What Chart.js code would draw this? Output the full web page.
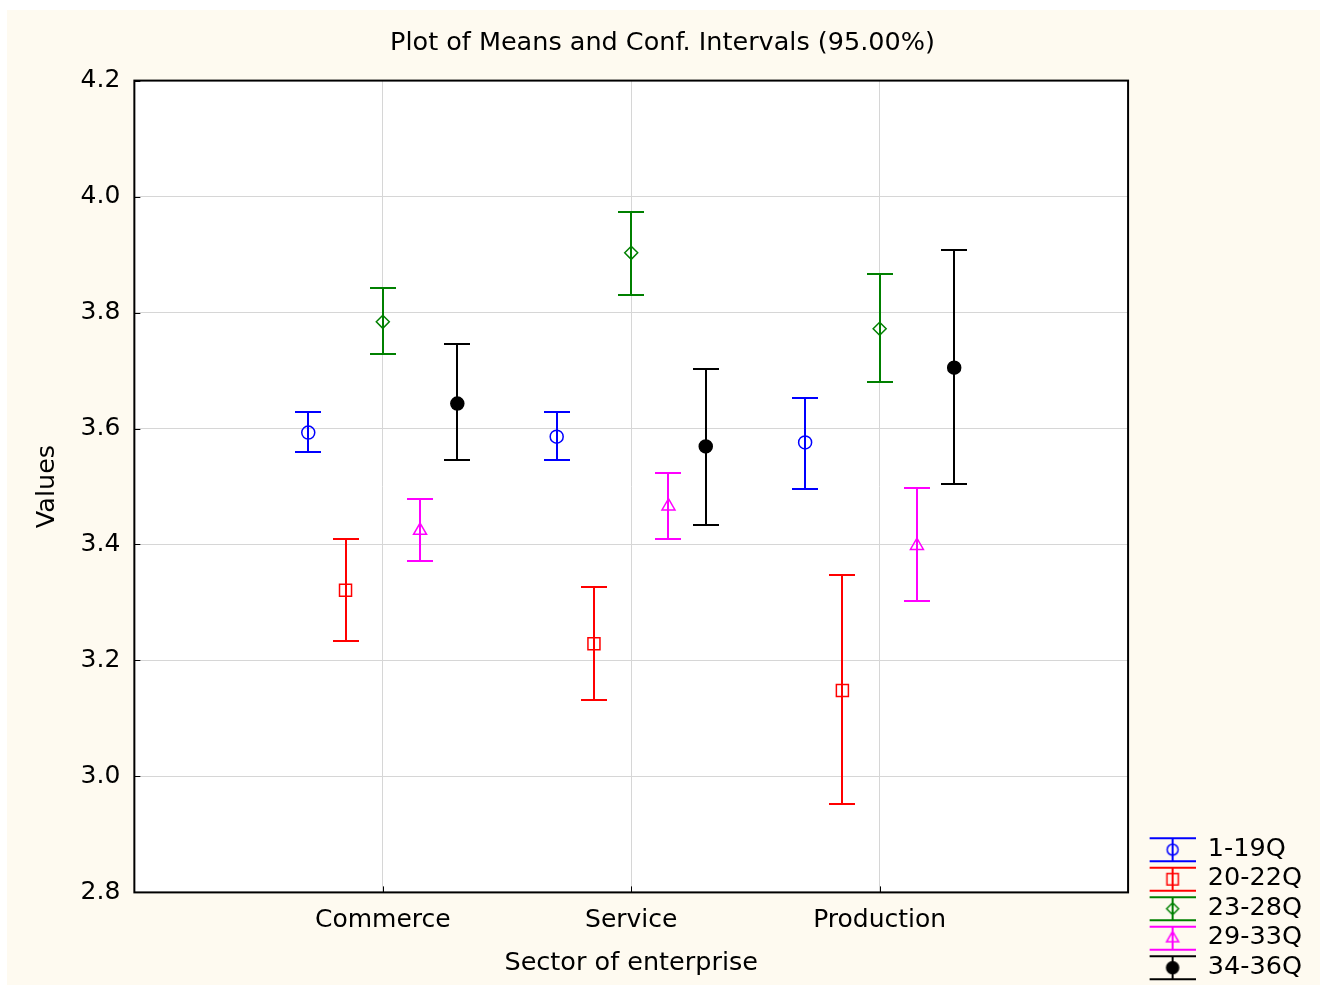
<!DOCTYPE html>
<html lang="en">
<head>
<meta charset="UTF-8">
<title>Plot of Means and Conf. Intervals</title>
<script src="https://cdn.jsdelivr.net/npm/chart.js"></script>
<style>
  html, body { margin: 0; padding: 0; background: #fff; }
  canvas { display: block; }
</style>
</head>
<body>
<canvas id="chartMeans" width="1327" height="987"></canvas>
<script>
const categories = ['Commerce', 'Service', 'Production'];
const groups = ['1-19Q', '20-22Q', '23-28Q', '29-33Q', '34-36Q'];
const yTicks = [2.8, 3.0, 3.2, 3.4, 3.6, 3.8, 4.0, 4.2];

// means and 95% limits per group, in category order
const mean1 = [3.593, 3.586, 3.576];
const low1 = [3.560, 3.545, 3.495];
const high1 = [3.628, 3.628, 3.653];
const mean2 = [3.321, 3.229, 3.148];
const low2 = [3.234, 3.131, 2.953];
const high2 = [3.409, 3.326, 3.347];
const mean3 = [3.784, 3.903, 3.772];
const low3 = [3.728, 3.831, 3.681];
const high3 = [3.843, 3.974, 3.866];
const mean4 = [3.424, 3.466, 3.398];
const low4 = [3.371, 3.409, 3.302];
const high4 = [3.479, 3.524, 3.497];
const mean5 = [3.643, 3.569, 3.705];
const low5 = [3.545, 3.433, 3.505];
const high5 = [3.745, 3.702, 3.907];

// styling
const FONT = 'DejaVu Sans';
const colors = ['#0000ff', '#ff0000', '#008000', '#ff00ff', '#000000'];
const fills = ['rgba(0,0,0,0)', 'rgba(0,0,0,0)', 'rgba(0,0,0,0)', 'rgba(0,0,0,0)', '#000000'];
const styles = ['circle', 'rect', 'rectRot', 'triangle', 'circle'];
const radii = [6.5, 8.5, 6.5, 7.5, 6.5];
const legendRadii = [5.5, 8, 6, 7, 6];
const offsets = [-0.3, -0.15, 0, 0.15, 0.3];

const series = [
  [mean1, low1, high1],
  [mean2, low2, high2],
  [mean3, low3, high3],
  [mean4, low4, high4],
  [mean5, low5, high5]
];

Chart.defaults.font.family = FONT;
Chart.defaults.color = '#000';

function legendSymbol(k) {
  const c = document.createElement('canvas');
  c.width = 64; c.height = 30;
  const g = c.getContext('2d');
  g.strokeStyle = colors[k];
  g.fillStyle = fills[k];
  g.lineWidth = 2;
  g.beginPath();
  g.moveTo(18, 4); g.lineTo(64, 4);
  g.moveTo(18, 27); g.lineTo(64, 27);
  g.moveTo(41, 4); g.lineTo(41, 27);
  g.stroke();
  g.lineWidth = 1.5;
  Chart.helpers.drawPoint(g, { pointStyle: styles[k], radius: legendRadii[k], borderWidth: 1.5, rotation: 0 }, 41, 15.5);
  return c;
}
const symbols = groups.map((_, k) => legendSymbol(k));

const datasets = series.map(([m, lo, hi], k) => ({
  label: groups[k],
  data: m.map((v, i) => ({ x: i + 1 + offsets[k], y: v })),
  lows: lo,
  highs: hi,
  borderColor: colors[k],
  backgroundColor: fills[k],
  pointStyle: styles[k],
  pointRadius: radii[k],
  pointBorderWidth: 1.5,
  showLine: false
}));

// cream panel + white plot area
const background = {
  id: 'background',
  beforeDraw(chart) {
    const { ctx, chartArea: a } = chart;
    ctx.save();
    ctx.fillStyle = '#ffffff';
    ctx.fillRect(0, 0, chart.width, chart.height);
    ctx.fillStyle = '#fefaf0';
    ctx.fillRect(7, 10, 1313, 975);
    ctx.fillStyle = '#ffffff';
    ctx.fillRect(a.left, a.top, a.right - a.left, a.bottom - a.top);
    ctx.restore();
  }
};

// vertical interval lines with caps
const errorBars = {
  id: 'errorBars',
  beforeDatasetsDraw(chart) {
    const ctx = chart.ctx;
    const y = chart.scales.y;
    chart.data.datasets.forEach((ds, k) => {
      const meta = chart.getDatasetMeta(k);
      ctx.save();
      ctx.strokeStyle = ds.borderColor;
      ctx.lineWidth = 2;
      meta.data.forEach((pt, i) => {
        const x = Math.round(pt.x);
        const yl = Math.round(y.getPixelForValue(ds.lows[i]));
        const yh = Math.round(y.getPixelForValue(ds.highs[i]));
        ctx.beginPath();
        ctx.moveTo(x, yl); ctx.lineTo(x, yh);
        ctx.moveTo(x - 13, yl); ctx.lineTo(x + 13, yl);
        ctx.moveTo(x - 13, yh); ctx.lineTo(x + 13, yh);
        ctx.stroke();
      });
      ctx.restore();
    });
  }
};

// black frame with short inner ticks
const frame = {
  id: 'frame',
  afterDatasetsDraw(chart) {
    const { ctx, chartArea: a, scales } = chart;
    ctx.save();
    ctx.strokeStyle = '#000';
    ctx.lineWidth = 2;
    ctx.strokeRect(a.left, a.top, a.right - a.left, a.bottom - a.top);
    ctx.lineWidth = 1;
    ctx.beginPath();
    scales.y.ticks.forEach(t => {
      const py = Math.round(scales.y.getPixelForValue(t.value)) + 0.5;
      ctx.moveTo(a.left, py); ctx.lineTo(a.left + 6, py);
    });
    scales.x.ticks.forEach(t => {
      const px = Math.round(scales.x.getPixelForValue(t.value)) + 0.5;
      ctx.moveTo(px, a.bottom); ctx.lineTo(px, a.bottom - 6);
    });
    ctx.stroke();
    ctx.restore();
  }
};

new Chart(document.getElementById('chartMeans'), {
  type: 'scatter',
  data: { datasets },
  options: {
    responsive: false,
    animation: false,
    events: [],
    layout: { padding: { left: 13, right: 15, top: 10, bottom: 3 } },
    plugins: {
      tooltip: { enabled: false },
      title: {
        display: true,
        text: 'Plot of Means and Conf. Intervals (95.00%)',
        font: { size: 25.5, weight: 'normal' },
        color: '#000',
        padding: { top: 18, bottom: 22 }
      },
      legend: {
        position: 'right',
        align: 'end',
        labels: {
          usePointStyle: true,
          pointStyleWidth: 63,
          padding: 4,
          color: '#000',
          font: { size: 25.5 },
          generateLabels: chart => chart.data.datasets.map((ds, k) => ({
            text: ds.label,
            pointStyle: symbols[k],
            fillStyle: fills[k],
            strokeStyle: colors[k],
            lineWidth: 0,
            hidden: false,
            datasetIndex: k
          }))
        }
      }
    },
    scales: {
      x: {
        type: 'linear',
        min: 0,
        max: 4,
        afterBuildTicks: s => { s.ticks = categories.map((c, i) => ({ value: i + 1 })); },
        ticks: {
          callback: (v, i) => categories[i],
          font: { size: 25 },
          color: '#000',
          padding: 13,
          maxRotation: 0,
          autoSkip: false
        },
        grid: { color: '#d6d6d6', drawTicks: false },
        border: { display: false },
        title: {
          display: true,
          text: 'Sector of enterprise',
          font: { size: 25.5 },
          color: '#000',
          padding: { top: 0, bottom: 5 }
        }
      },
      y: {
        min: 2.8,
        max: 4.2,
        afterBuildTicks: s => { s.ticks = yTicks.map(v => ({ value: v })); },
        ticks: {
          callback: v => v.toFixed(1),
          font: { size: 25 },
          color: '#000',
          padding: 14
        },
        grid: { color: '#d6d6d6', drawTicks: false },
        border: { display: false },
        title: {
          display: true,
          text: 'Values',
          font: { size: 25.5 },
          color: '#000',
          padding: { top: 19, bottom: 4 }
        }
      }
    }
  },
  plugins: [background, errorBars, frame]
});
</script>
</body>
</html>
